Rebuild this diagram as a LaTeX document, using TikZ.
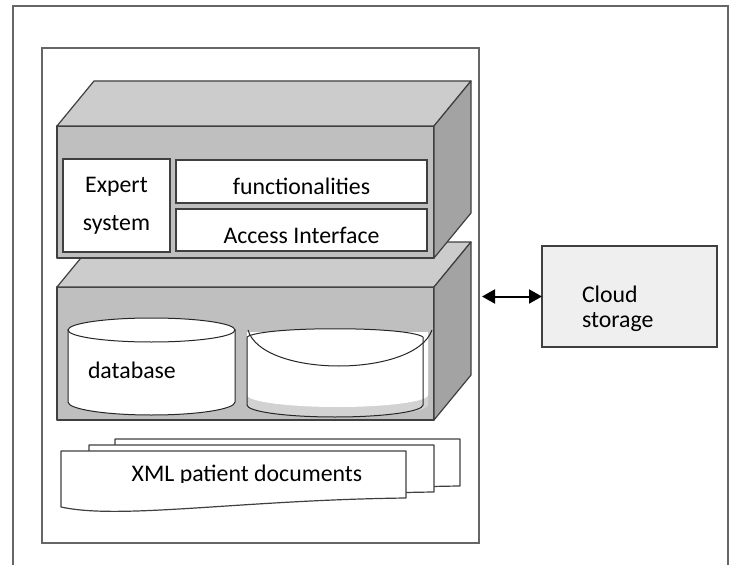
\documentclass[tikz,border=0pt]{standalone}
\usepackage{fontspec}
\setmainfont{Carlito}
\usetikzlibrary{arrows.meta}
\definecolor{topc}{HTML}{CCCCCC}
\definecolor{frontc}{HTML}{BFBFBF}
\definecolor{sidec}{HTML}{A3A3A3}
\definecolor{edgec}{HTML}{3F3F3F}
\definecolor{framec}{HTML}{666666}
\definecolor{cloudc}{HTML}{EFEFEF}
\definecolor{shadec}{HTML}{D2D2D2}
\begin{document}
\begin{tikzpicture}[x=1bp,y=-1bp,
  every node/.style={font=\fontsize{23.8bp}{28bp}\selectfont, inner sep=0pt, outer sep=0pt},
  face/.style={draw=edgec, line width=1.2bp, line join=round},
  framepath/.style={draw=framec, line width=1.5bp},
  plainbox/.style={draw=edgec, fill=white, line width=1.2bp},
  txtbox/.style={plainbox, text height=27bp, text depth=0bp},
  dbline/.style={draw=black!85, line width=1bp},
  docshape/.style={draw=edgec, line width=1.2bp, fill=white, line join=round},
  link/.style={line width=2bp, {Triangle[length=13bp,width=14bp]}-{Triangle[length=13bp,width=14bp]}}
]
\useasboundingbox (0,0) rectangle (735,565);

% outer frame
\draw[framepath] (13,565) -- (13,6) -- (728,6) -- (728,565);

% inner system frame
\node[draw=framec, line width=1.5bp, minimum width=437bp, minimum height=495bp] (sys) at (260.5,295.5) {};

% lower block
\draw[face, fill=frontc] (57,287) rectangle (434,420);
\draw[face, fill=topc] (57,287) -- (94,242) -- (471,242) -- (434,287) -- cycle;
\draw[face, fill=sidec] (434,287) -- (471,242) -- (471,375) -- (434,420) -- cycle;

% upper block
\draw[face, fill=frontc] (57,126) rectangle (434,258);
\draw[face, fill=topc] (57,126) -- (94,81) -- (471,81) -- (434,126) -- cycle;
\draw[face, fill=sidec] (434,126) -- (471,81) -- (471,213) -- (434,258) -- cycle;

% boxes in upper block
\node[plainbox, align=center, font=\fontsize{23.8bp}{38bp}\selectfont,
      minimum width=107bp, minimum height=93bp] (expert) at (116.5,205.5) {Expert\\system};
\node[txtbox, minimum width=251bp, minimum height=43bp] (func) at (301.5,181.5) {functionalities};
\node[txtbox, minimum width=251bp, minimum height=42bp, text height=26.5bp] (access) at (301.5,230) {Access Interface};

% cylinder 1 (database)
\path[dbline, fill=white] (68,330) -- (68,402) .. controls (68,409.2) and (105.4,415) .. (151.5,415)
   .. controls (197.6,415) and (235,409.2) .. (235,402) -- (235,330) -- cycle;
\draw[dbline, fill=white] (151.5,330) ellipse [x radius=83.5, y radius=12];
\node[anchor=base west] (dbtxt) at (88,378) {database};

% cylinder 2
\fill[shadec] (247,337) -- (247,405) .. controls (247,411.6) and (288,417) .. (337.5,417)
   .. controls (387,417) and (428,411.6) .. (428,405) -- (428,337) -- cycle;
\fill[white] (247,332) -- (247,395) .. controls (247,401.6) and (288,407) .. (337.5,407)
   .. controls (387,407) and (428,401.6) .. (428,395) -- (428,332) -- cycle;
\fill[white] (247,337) .. controls (262,326) and (408,326) .. (423,337) -- cycle;
\draw[dbline] (247,337) -- (247,405) .. controls (247,411.6) and (286.4,417) .. (335,417)
   .. controls (383.6,417) and (423,411.6) .. (423,405) -- (423,337);
\draw[dbline] (247,337) .. controls (262,326) and (408,326) .. (423,337);
\draw[dbline] (248,330) .. controls (262,378) and (415,378) .. (432,330);

% stacked XML documents
\foreach \dx/\dy in {54/-12, 28/-6, 0/0}{
  \draw[docshape, shift={(\dx,\dy)}] (61,451) -- (406,451) -- (406,498)
     .. controls (240,500) and (120,520) .. (61,507) -- cycle;
}
\begin{scope}
  \clip (61,451) rectangle (406,482);
  \node[anchor=base] (xmltxt) at (247,481) {XML patient documents};
\end{scope}

% cloud storage
\node[draw=edgec, fill=cloudc, line width=1.2bp, minimum width=175bp, minimum height=101bp] (cloud) at (629.5,296.5) {};
\node[anchor=base west, font=\fontsize{23.8bp}{25bp}\selectfont] (cloudtxt) at (582,302)
   {\begin{tabular}[t]{@{}l@{}}Cloud\\storage\end{tabular}};

% connector
\draw[link, shorten <=3bp] (sys.east |- cloud.west) -- (cloud.west);
\end{tikzpicture}
\end{document}
